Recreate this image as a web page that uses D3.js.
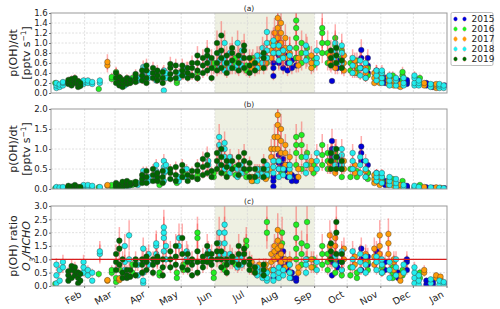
<!DOCTYPE html>
<html>
<head>
<meta charset="utf-8">
<script src="https://cdn.jsdelivr.net/npm/d3@7"></script>
<style>
  body { margin: 0; background: #fff; }
  text { font-family: "DejaVu Sans", sans-serif; fill: #222; }
</style>
</head>
<body>
<div id="chart"></div>
<script>
// ---- data: [day of year, p(OH)/dt (a), p(OH)/dt (b), ratio (c)] ----
const years = ['2015', '2016', '2017', '2018', '2019'];
const yearColors = ['#0000d8', '#22ee22', '#ff9c08', '#22eeee', '#006600'];

const obs2015 = [
  [205, [0.34, 0.5, 0.6], [0.06, 0.2, 0.3], [0.3, 0.6]],
  [210, [0.6, 0.75, 0.9, 1.0], [0.5, 0.65, 0.85], [1.0, 1.2, 1.4]],
  [214, [0.5, 0.7, 0.85], [0.4, 0.6, 0.75], [0.7, 1.0, 1.3]],
  [218, [0.45, 0.6, 0.75], [0.3, 0.47, 0.6], [0.6, 0.8]],
  [222, [0.5, 0.65], [0.2, 0.35], [0.3, 0.5]],
  [226, [0.55, 0.7], [0.2, 0.3], [0.2, 0.3]],
  [259, [0.24, 0.6, 0.7], [0.8, 1.0, 1.2], [0.4, 0.9, 1.1]],
  [264, [0.5, 0.65], [0.6, 0.8], [0.7, 0.9]],
  [286, [0.5, 0.7, 0.86], [0.7, 0.9, 1.06], [0.6, 1.0, 1.4]],
  [292, [0.4, 0.55, 0.7], [0.4, 0.6], [0.8, 1.1]],
  [300, [0.3, 0.45], [0.2, 0.4], [1.1, 1.3]],
  [308, [0.2, 0.3], [0.1, 0.2], [0.6, 0.9]],
  [320, [0.15, 0.2, 0.25], [0.05, 0.1], [0.3, 0.5]],
  [328, [0.18, 0.22, 0.26], [0.03, 0.05, 0.08], [0.6, 0.9, 1.0]],
  [346, [0.15, 0.2], [0.02, 0.04], [0.05, 0.2]],
  [352, [0.12, 0.16], [0.01, 0.03], [0.05, 0.15]],
  [363, [0.15], [0.02], [0.1]]
];

const obs2016 = [
  [4, [0.2], [0.02], [0.08]],
  [44, [0.08], [0.04], [0.45]],
  [56, [0.28, 0.32], [0.06, 0.1], [0.5, 0.6]],
  [60, [0.42], [0.1], [0.15, 0.3]],
  [64, [0.2, 0.3], [0.05, 0.1], [0.3, 0.6]],
  [75, [0.25, 0.3], [0.1, 0.15], [0.5, 0.8]],
  [100, [0.3, 0.35], [0.1, 0.2], [0.4, 0.5]],
  [116, [0.2, 0.25], [0.15, 0.2], [0.3, 0.5]],
  [122, [0.35, 0.45], [0.3, 0.4], [0.6, 0.8]],
  [135, [0.3, 0.4], [0.25, 0.35], [1.8, 2.0]],
  [150, [0.5, 0.6], [0.3, 0.4], [0.3, 0.5]],
  [160, [0.55, 0.65], [0.4, 0.5], [0.6, 0.8]],
  [170, [0.5, 0.6, 0.7], [0.35, 0.55], [0.8, 1.0]],
  [180, [0.45, 0.55], [0.3, 0.45], [1.5, 1.7]],
  [186, [0.6, 0.7], [0.2, 0.3], [0.6, 0.7]],
  [199, [0.6, 0.7], [0.3, 0.4], [2.0, 2.4]],
  [213, [0.7, 0.8], [0.4, 0.5], [1.6, 2.0]],
  [226, [0.7, 0.9, 1.1, 1.3, 1.45], [0.6, 0.9, 1.1, 1.3], [1.0, 1.4, 1.8, 2.3]],
  [231, [0.6, 0.8, 1.0], [0.5, 0.8, 1.1, 1.35], [0.8, 1.2, 1.6]],
  [236, [0.7, 0.9], [0.6, 0.9], [1.0, 1.5, 2.4]],
  [242, [0.55, 0.7], [0.4, 0.6], [0.7, 1.0]],
  [250, [0.8, 1.0, 1.2, 1.3], [0.6, 0.85, 1.1], [0.8, 1.2, 1.5]],
  [255, [0.6, 0.8, 1.0], [0.5, 0.7, 0.9], [0.6, 0.9, 1.2]],
  [262, [0.6, 0.75, 0.95, 1.1], [0.5, 0.7, 0.9], [0.5, 0.8, 1.0]],
  [268, [0.5, 0.7, 0.85], [0.3, 0.5, 0.7], [0.4, 0.6, 0.9]],
  [276, [0.45, 0.6], [0.3, 0.5], [0.4, 0.7]],
  [282, [0.4, 0.5, 0.65], [0.3, 0.45], [0.3, 0.5]],
  [292, [0.35, 0.5], [0.25, 0.4], [0.6, 0.9]],
  [305, [0.3, 0.4], [0.2, 0.3], [0.5, 0.7]],
  [315, [0.25, 0.35], [0.15, 0.25], [0.3, 0.5, 0.7]],
  [324, [0.25, 0.35, 0.42], [0.1, 0.2], [0.4, 0.6]],
  [340, [0.2, 0.3], [0.05, 0.1], [0.3, 0.5]]
];

const obs2017 = [
  [52, [0.55, 0.62], [0.08, 0.1], [0.2, 0.22]],
  [63, [0.22, 0.28], [0.03, 0.05], [0.22, 0.28]],
  [185, [0.5, 0.65], [0.2, 0.3], [0.6, 0.9]],
  [192, [0.5, 0.6, 0.75], [0.35, 0.5], [0.5, 0.8]],
  [198, [0.6, 0.7], [0.25, 0.4], [0.6, 0.8]],
  [203, [0.7, 0.85, 1.0], [0.5, 0.8, 1.0], [0.6, 0.9, 1.2]],
  [206, [0.8, 1.0, 1.2], [0.7, 1.0, 1.3], [1.0, 1.3, 1.5]],
  [209, [0.9, 1.1, 1.3, 1.5], [1.0, 1.3, 1.6, 1.85], [1.1, 1.4, 1.7, 2.1]],
  [212, [0.8, 1.0, 1.2, 1.4], [0.9, 1.2, 1.5], [0.9, 1.2, 1.5]],
  [216, [0.7, 0.9, 1.1], [0.6, 0.9, 1.1], [0.7, 1.0]],
  [220, [0.6, 0.8, 0.9], [0.4, 0.6, 0.8], [0.5, 0.8, 1.0]],
  [228, [0.55, 0.7], [0.3, 0.5], [0.5, 0.7]],
  [240, [0.5, 0.6, 0.75], [0.5, 0.7], [0.7, 1.0]],
  [257, [0.6, 0.75], [0.5, 0.65], [1.0, 1.5, 1.9]],
  [262, [0.5, 0.65, 0.8], [0.4, 0.6, 0.8], [1.2, 1.5, 1.8]],
  [270, [0.45, 0.6, 0.75], [0.5, 0.7], [1.0, 1.4]],
  [280, [0.4, 0.55, 0.65], [0.4, 0.6], [0.8, 1.1]],
  [290, [0.3, 0.4, 0.5], [0.3, 0.45], [0.9, 1.2]],
  [298, [0.2, 0.3, 0.4], [0.15, 0.25, 0.35], [0.8, 1.1, 1.4]],
  [303, [0.2, 0.28, 0.35], [0.1, 0.2, 0.3], [1.2, 1.5, 1.9]],
  [311, [0.18, 0.25, 0.32], [0.1, 0.2], [1.2, 1.6, 1.95]],
  [316, [0.15, 0.25], [0.08, 0.15], [0.6, 0.9, 1.0]],
  [322, [0.12, 0.18], [0.05, 0.1], [0.2, 0.4]],
  [344, [0.15, 0.2], [0.02, 0.05], [0.5, 0.6]],
  [355, [0.1, 0.15, 0.18], [0.02, 0.04], [0.3, 0.4]],
  [359, [0.12, 0.15], [0.01, 0.03], [0.25, 0.35]]
];

const obs2018 = [
  [5, [0.1, 0.15, 0.2], [0.01, 0.03, 0.05], [0.1, 0.4, 0.8]],
  [8, [0.12, 0.17], [0.02, 0.04], [0.2, 0.6]],
  [11, [0.15, 0.2, 0.22], [0.03, 0.05], [0.7, 0.9]],
  [30, [0.18, 0.22, 0.25], [0.05, 0.08, 0.1], [0.5, 0.7, 0.9]],
  [34, [0.2, 0.25], [0.06, 0.1], [0.4, 0.6]],
  [38, [0.18, 0.22], [0.05, 0.08], [0.2, 0.5]],
  [45, [0.2, 0.25], [0.03, 0.05], [1.2, 1.3]],
  [68, [0.15, 0.2, 0.25], [0.05, 0.1], [0.6, 0.9, 1.5]],
  [72, [0.2, 0.28], [0.08, 0.12], [1.0, 1.9]],
  [80, [0.25, 0.3], [0.1, 0.15], [0.4, 0.8]],
  [85, [0.25, 0.35, 0.45, 0.52], [0.2, 0.3, 0.45], [0.1, 0.2, 0.5, 1.4]],
  [90, [0.3, 0.4], [0.2, 0.3], [0.8, 1.2]],
  [97, [0.25, 0.35, 0.4], [0.3, 0.45, 0.6], [1.2, 1.5, 1.6]],
  [104, [0.05, 0.35, 0.45], [0.2, 0.4, 0.55, 0.7], [1.3, 1.8, 2.0, 2.2]],
  [106, [0.3, 0.4], [0.45, 0.6], [1.0, 1.5]],
  [118, [0.3, 0.4], [0.2, 0.3], [1.5, 1.8]],
  [125, [0.35, 0.5], [0.3, 0.5], [1.0, 1.3]],
  [145, [0.6, 0.7], [0.6, 0.7], [1.1, 1.3]],
  [155, [0.5, 0.65, 0.8], [0.6, 0.9, 1.1, 1.3], [1.2, 1.6, 2.0]],
  [160, [0.45, 0.6, 0.7, 1.0], [0.5, 0.8, 1.0, 1.15], [1.2, 1.6, 2.0, 2.3]],
  [165, [0.5, 0.6, 0.8], [0.4, 0.6, 0.8], [0.9, 1.2]],
  [172, [0.5, 0.55, 1.0], [0.3, 0.5], [0.7, 1.0]],
  [176, [0.55, 0.7, 0.85], [0.4, 0.6], [0.8, 1.1]],
  [190, [0.5, 0.65, 0.75], [0.2, 0.35, 0.5], [0.4, 0.55, 0.7]],
  [195, [0.6, 0.75, 0.9], [0.3, 0.4, 0.5], [0.3, 0.5, 0.6]],
  [199, [0.7, 0.85, 1.0, 1.22], [0.35, 0.5, 0.6], [0.2, 0.3, 0.5]],
  [205, [0.8, 0.95, 1.05], [0.4, 0.55, 0.7], [0.2, 0.4, 0.6]],
  [210, [0.65, 0.8, 0.95], [0.3, 0.5, 0.7], [0.3, 0.5, 0.7]],
  [214, [0.7, 0.85], [0.35, 0.5], [0.4, 0.6]],
  [220, [0.6, 0.75, 0.9], [0.3, 0.5, 0.6], [0.3, 0.5, 0.8]],
  [235, [0.65, 0.8, 0.95], [0.4, 0.6, 0.8], [0.5, 0.8, 1.0]],
  [245, [0.6, 0.7, 0.85], [0.5, 0.7, 0.9], [0.6, 0.9]],
  [262, [0.7, 0.85, 1.0], [0.6, 0.8, 1.0], [0.8, 1.1]],
  [268, [0.6, 0.8, 0.95], [0.6, 0.85, 1.0], [0.6, 0.9, 1.3]],
  [278, [0.4, 0.55, 0.7], [0.5, 0.7, 0.9], [0.7, 1.0, 1.3]],
  [285, [0.35, 0.5, 0.65], [0.4, 0.6, 0.8], [0.6, 0.9, 1.2]],
  [290, [0.3, 0.45, 0.6], [0.3, 0.5, 0.7], [0.5, 0.8, 1.1]],
  [300, [0.25, 0.35, 0.45], [0.2, 0.3, 0.4], [0.6, 0.9, 1.1]],
  [305, [0.2, 0.3, 0.4, 0.45], [0.15, 0.3, 0.4], [0.5, 0.8, 1.0]],
  [312, [0.15, 0.25, 0.35], [0.1, 0.2, 0.3], [0.3, 0.6, 0.9]],
  [318, [0.15, 0.25, 0.3], [0.05, 0.15, 0.25], [0.4, 0.7, 1.0]],
  [325, [0.15, 0.2, 0.3], [0.05, 0.1], [0.5, 0.8]],
  [335, [0.15, 0.2, 0.3, 0.35], [0.02, 0.05, 0.08], [0.1, 0.3, 0.5, 0.7]],
  [339, [0.15, 0.2, 0.25], [0.02, 0.05], [0.05, 0.2, 0.4]],
  [350, [0.12, 0.18], [0.02, 0.04], [0.1, 0.25]],
  [358, [0.1, 0.15, 0.18], [0.01, 0.03], [0.05, 0.2]],
  [362, [0.1, 0.15], [0.01, 0.02], [0.05, 0.15]]
];

const obs2019 = [
  [16, [0.18, 0.22, 0.26], [0.02, 0.05, 0.08], [0.2, 0.4, 0.55]],
  [19, [0.15, 0.2, 0.28], [0.03, 0.06], [0.3, 0.6, 0.75]],
  [22, [0.2, 0.25, 0.3], [0.04, 0.07, 0.1], [0.4, 0.55, 0.7]],
  [25, [0.12, 0.18, 0.24], [0.02, 0.05], [0.1, 0.3, 0.5]],
  [27, [0.14, 0.2], [0.03, 0.05], [0.2, 0.45]],
  [60, [0.2, 0.3, 0.4], [0.05, 0.1, 0.15], [0.6, 0.9, 1.2]],
  [63, [0.15, 0.22, 0.32], [0.06, 0.1], [0.8, 1.4, 1.7]],
  [66, [0.12, 0.2, 0.26], [0.05, 0.12, 0.18], [0.3, 0.5, 1.0]],
  [70, [0.18, 0.24, 0.3], [0.08, 0.12, 0.2], [0.3, 0.4, 0.6]],
  [73, [0.2, 0.26], [0.1, 0.15], [0.35, 0.6]],
  [78, [0.22, 0.3, 0.38], [0.12, 0.18], [0.4, 0.8, 1.0]],
  [84, [0.25, 0.35, 0.45], [0.15, 0.25, 0.35], [0.5, 0.8, 1.0]],
  [88, [0.2, 0.3, 0.45, 0.55], [0.15, 0.3, 0.45], [0.6, 0.9, 1.0, 1.1]],
  [94, [0.3, 0.4, 0.5], [0.2, 0.35, 0.5], [0.5, 0.8, 1.0]],
  [98, [0.25, 0.35, 0.45], [0.2, 0.3, 0.4], [0.9, 1.0, 1.1]],
  [103, [0.2, 0.3, 0.42], [0.15, 0.3, 0.45], [0.4, 0.7, 1.0]],
  [110, [0.28, 0.38, 0.5, 0.58], [0.25, 0.4, 0.5], [0.7, 1.0, 1.3]],
  [115, [0.3, 0.42, 0.55], [0.2, 0.35, 0.55], [0.8, 1.1, 1.5]],
  [121, [0.35, 0.45, 0.55], [0.3, 0.45, 0.6], [0.7, 1.2, 1.8]],
  [126, [0.3, 0.4, 0.5], [0.2, 0.35], [0.6, 0.9, 1.2]],
  [130, [0.35, 0.5, 0.6], [0.3, 0.45], [0.4, 0.8, 1.0]],
  [135, [0.3, 0.45, 0.6, 0.75], [0.25, 0.45, 0.6], [0.5, 0.9, 1.3]],
  [140, [0.4, 0.55, 0.7], [0.35, 0.55, 0.75], [0.7, 0.9, 1.1]],
  [144, [0.45, 0.6, 0.75, 0.85], [0.4, 0.6, 0.85], [0.9, 1.2, 1.5]],
  [148, [0.3, 0.5, 0.7], [0.3, 0.45], [0.8, 1.0, 1.2]],
  [153, [0.45, 0.6, 0.8, 1.0], [0.5, 0.7, 0.9], [1.0, 1.3, 1.6]],
  [157, [0.5, 0.7, 0.85, 1.15], [0.4, 0.6, 0.8, 1.0], [0.7, 1.0, 1.3]],
  [162, [0.4, 0.6, 0.75], [0.3, 0.55, 0.7], [0.5, 0.8, 1.0]],
  [167, [0.5, 0.65, 0.8, 0.9], [0.5, 0.7], [0.9, 1.1]],
  [173, [0.45, 0.6, 0.75], [0.35, 0.6, 0.8], [0.8, 1.2, 1.5]],
  [178, [0.5, 0.7, 0.85, 0.95], [0.5, 0.7, 0.9], [0.9, 1.2, 1.4]],
  [183, [0.4, 0.55, 0.7], [0.3, 0.5, 0.65], [0.6, 0.8, 1.0]],
  [188, [0.45, 0.6], [0.3, 0.5], [0.5, 0.7]],
  [196, [0.5, 0.7, 0.8], [0.3, 0.5, 0.7], [0.4, 0.6, 0.8]],
  [258, [0.55, 0.7, 0.85], [0.5, 0.7, 0.9], [1.0, 1.3, 1.6]],
  [263, [0.6, 0.75, 0.9], [0.5, 0.8, 1.0], [1.2, 2.0, 2.4]],
  [268, [0.5, 0.65], [0.5, 0.7], [0.9, 1.2]]
];

const observations = [obs2015, obs2016, obs2017, obs2018, obs2019];

// axis ticks and labels
const monthStarts = [31, 59, 90, 120, 151, 181, 212, 243, 273, 304, 334, 365];
const monthNames = ['Feb', 'Mar', 'Apr', 'May', 'Jun', 'Jul', 'Aug', 'Sep', 'Oct', 'Nov', 'Dec', 'Jan'];
const ticksA = [0, 0.2, 0.4, 0.6, 0.8, 1.0, 1.2, 1.4, 1.6];
const ticksB = [0, 0.5, 1.0, 1.5, 2.0];
const ticksC = [0, 0.5, 1.0, 1.5, 2.0, 2.5, 3.0];
const summerSpan = [151, 243];     // Jun 1 - Sep 1
const relErr = [0.25, 0.25, 0.3];  // relative uncertainty per panel
const ratioRef = 1.0;

// ---- layout ----
const width = 500, height = 309;
const left = 51, right = 447, panelH = 80;

const svg = d3.select('#chart').append('svg')
    .attr('width', width)
    .attr('height', height);

const x = d3.scaleLinear().domain([0, 365]).range([left, right]);

const panels = [
    { top: 13, ticks: ticksA, title: '(a)' },
    { top: 109, ticks: ticksB, title: '(b)' },
    { top: 206, ticks: ticksC, title: '(c)' }
];

panels.forEach((p, pi) => {
    const yMax = p.ticks[p.ticks.length - 1];
    const y = d3.scaleLinear().domain([0, yMax]).range([p.top + panelH, p.top]);
    const g = svg.append('g');

    const clipId = 'clip' + pi;
    svg.append('clipPath').attr('id', clipId)
        .append('rect')
        .attr('x', left).attr('y', p.top)
        .attr('width', right - left).attr('height', panelH);

    // summer shading
    g.append('rect')
        .attr('x', x(summerSpan[0]))
        .attr('y', p.top)
        .attr('width', x(summerSpan[1]) - x(summerSpan[0]))
        .attr('height', panelH)
        .attr('fill', '#eef0e2');

    // grid
    g.selectAll('.vg').data(monthStarts.slice(0, -1)).join('line')
        .attr('x1', d => x(d)).attr('x2', d => x(d))
        .attr('y1', p.top).attr('y2', p.top + panelH)
        .attr('stroke', '#d8d8d8').attr('stroke-width', 0.8)
        .attr('stroke-dasharray', '2,1.5');
    g.selectAll('.hg').data(p.ticks.slice(1, -1)).join('line')
        .attr('x1', left).attr('x2', right)
        .attr('y1', d => y(d)).attr('y2', d => y(d))
        .attr('stroke', '#d8d8d8').attr('stroke-width', 0.8)
        .attr('stroke-dasharray', '2,1.5');

    // points, one year at a time (error bars under markers)
    const marks = g.append('g').attr('clip-path', `url(#${clipId})`);
    observations.forEach((obs, yi) => {
        const pts = [];
        obs.forEach(row => row[pi + 1].forEach(v => pts.push({ day: row[0], v })));
        const yg = marks.append('g');
        yg.selectAll('line').data(pts).join('line')
            .attr('x1', d => x(d.day)).attr('x2', d => x(d.day))
            .attr('y1', d => y(d.v * (1 - relErr[pi])))
            .attr('y2', d => y(d.v * (1 + relErr[pi])))
            .attr('stroke', '#ff3030')
            .attr('stroke-opacity', 0.4)
            .attr('stroke-width', 1.5);
        yg.selectAll('circle').data(pts).join('circle')
            .attr('cx', d => x(d.day))
            .attr('cy', d => y(d.v))
            .attr('r', 2.8)
            .attr('fill', yearColors[yi])
            .attr('stroke', '#333')
            .attr('stroke-width', 0.4);
    });

    if (pi === 2) {
        g.append('line')
            .attr('x1', left).attr('x2', right)
            .attr('y1', y(ratioRef)).attr('y2', y(ratioRef))
            .attr('stroke', '#d81e1e').attr('stroke-width', 1.2);
    }

    // frame
    g.append('rect')
        .attr('x', left).attr('y', p.top)
        .attr('width', right - left).attr('height', panelH)
        .attr('fill', 'none').attr('stroke', '#999').attr('stroke-width', 1);

    // y axis
    const ya = g.append('g')
        .attr('transform', `translate(${left},0)`)
        .call(d3.axisLeft(y).tickValues(p.ticks).tickFormat(d3.format('.1f')).tickSize(2).tickPadding(1.2));
    ya.select('.domain').remove();
    ya.selectAll('line').attr('stroke', '#777');
    ya.selectAll('text').attr('font-size', 8.6).attr('font-family', 'DejaVu Sans').attr('fill', '#222');

    // panel title
    g.append('text')
        .attr('x', (left + right) / 2).attr('y', p.top - 2.5)
        .attr('text-anchor', 'middle')
        .attr('font-size', 7.5)
        .text(p.title);

    // y label
    const cy = p.top + panelH / 2;
    const l1 = g.append('text')
        .attr('transform', `translate(17,${cy}) rotate(-90)`)
        .attr('text-anchor', 'middle')
        .attr('font-size', 11);
    const l2 = g.append('text')
        .attr('transform', `translate(30,${cy}) rotate(-90)`)
        .attr('text-anchor', 'middle')
        .attr('font-size', 11);
    if (pi < 2) {
        l1.text('p(OH)/dt');
        l2.append('tspan').text('[pptv s');
        l2.append('tspan').attr('baseline-shift', 'super').attr('font-size', 7.5).text('\u22121');
        l2.append('tspan').text(']');
    } else {
        l1.text('p(OH) ratio');
        l2.attr('font-style', 'italic');
        l2.append('tspan').text('O');
        l2.append('tspan').attr('baseline-shift', 'sub').attr('font-size', 7.5).text('3');
        l2.append('tspan').text('/HCHO');
    }

    // month axis on bottom panel
    if (pi === 2) {
        const base = p.top + panelH;
        g.selectAll('.mt').data(monthStarts).join('line')
            .attr('x1', d => x(d)).attr('x2', d => x(d))
            .attr('y1', base).attr('y2', base + 2)
            .attr('stroke', '#777');
        g.selectAll('.ml').data(monthStarts).join('text')
            .attr('transform', d => `translate(${x(d) - 6},${base + 4}) rotate(-30)`)
            .attr('text-anchor', 'end')
            .attr('dy', '0.75em')
            .attr('font-size', 9.5)
            .text((d, i) => monthNames[i]);
    }
});

// legend
const lg = svg.append('g');
lg.append('rect')
    .attr('x', 451).attr('y', 12.5)
    .attr('width', 42).attr('height', 53)
    .attr('rx', 1.5)
    .attr('fill', '#fff').attr('stroke', '#aaa').attr('stroke-width', 0.8);
years.forEach((yr, i) => {
    const ly = 19 + i * 10;
    [455.5, 464.5].forEach(mx => {
        lg.append('line')
            .attr('x1', mx).attr('x2', mx)
            .attr('y1', ly - 3).attr('y2', ly + 3)
            .attr('stroke', '#ff3030').attr('stroke-opacity', 0.3).attr('stroke-width', 1.5);
        lg.append('circle')
            .attr('cx', mx).attr('cy', ly).attr('r', 2)
            .attr('fill', yearColors[i]);
    });
    lg.append('text')
        .attr('x', 471.5).attr('y', ly + 3.2)
        .attr('font-size', 9)
        .text(yr);
});
</script>
</body>
</html>
